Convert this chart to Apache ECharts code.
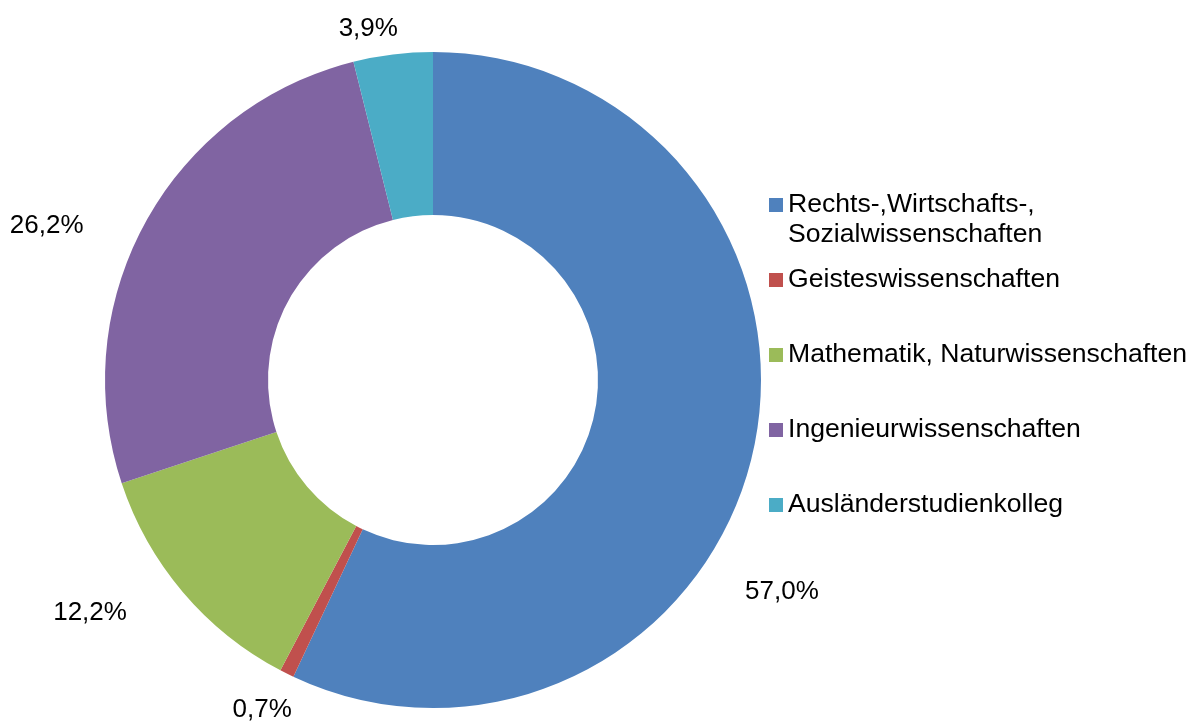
<!DOCTYPE html>
<html>
<head>
<meta charset="utf-8">
<script src="https://cdn.jsdelivr.net/npm/echarts@6/dist/echarts.min.js"></script>
<style>
  html, body { margin: 0; padding: 0; background: #fff; }
  #chart { width: 1192px; height: 722px; }
</style>
</head>
<body>
<div id="chart"></div>
<script>
const categories = [
  'Rechts-,Wirtschafts-,\nSozialwissenschaften',
  'Geisteswissenschaften',
  'Mathematik, Naturwissenschaften',
  'Ingenieurwissenschaften',
  'Ausländerstudienkolleg'
];
const values = [57.0, 0.7, 12.2, 26.2, 3.9];
const colors = ['#4F81BD', '#C0504D', '#9BBB59', '#8064A2', '#4BACC6'];
// label offsets (px) from the library's outside-label anchor
const labelShift = [[-8, 140], [5, 36], [-56, 21], [-62, 4], [5, -26]];

const FONT = 'Liberation Sans, Arial, sans-serif';
const chart = echarts.init(document.getElementById('chart'), null, { renderer: 'canvas' });

chart.setOption({
  animation: false,
  color: colors,
  legend: [
    {
      data: [categories[0]],
      orient: 'vertical',
      left: 769,
      top: 160,
      padding: 0,
      itemWidth: 14,
      itemHeight: 14,
      icon: 'rect',
      selectedMode: false,
      formatter: name => '\n' + name,
      textStyle: { fontFamily: FONT, fontSize: 26.6, color: '#000', lineHeight: 30 }
    },
    {
      data: categories.slice(1),
      orient: 'vertical',
      left: 769,
      top: 265,
      padding: 0,
      itemGap: 45,
      itemWidth: 14,
      itemHeight: 14,
      icon: 'rect',
      selectedMode: false,
      textStyle: { fontFamily: FONT, fontSize: 26.6, color: '#000', lineHeight: 30 }
    }
  ],
  series: [{
    type: 'pie',
    center: [433, 380],
    radius: [165, 328],
    startAngle: 90,
    clockwise: true,
    avoidLabelOverlap: false,
    data: categories.map((c, i) => ({ name: c, value: values[i] })),
    label: {
      show: true,
      position: 'outside',
      fontFamily: FONT,
      fontSize: 26,
      color: '#000',
      distanceToLabelLine: 0,
      formatter: p => p.value.toFixed(1).replace('.', ',') + '%'
    },
    labelLine: { show: false, length: 0, length2: 0 },
    labelLayout: function (params) {
      const s = labelShift[params.dataIndex];
      return { dx: s[0], dy: s[1] };
    },
    emphasis: { disabled: true }
  }]
});
</script>
</body>
</html>
